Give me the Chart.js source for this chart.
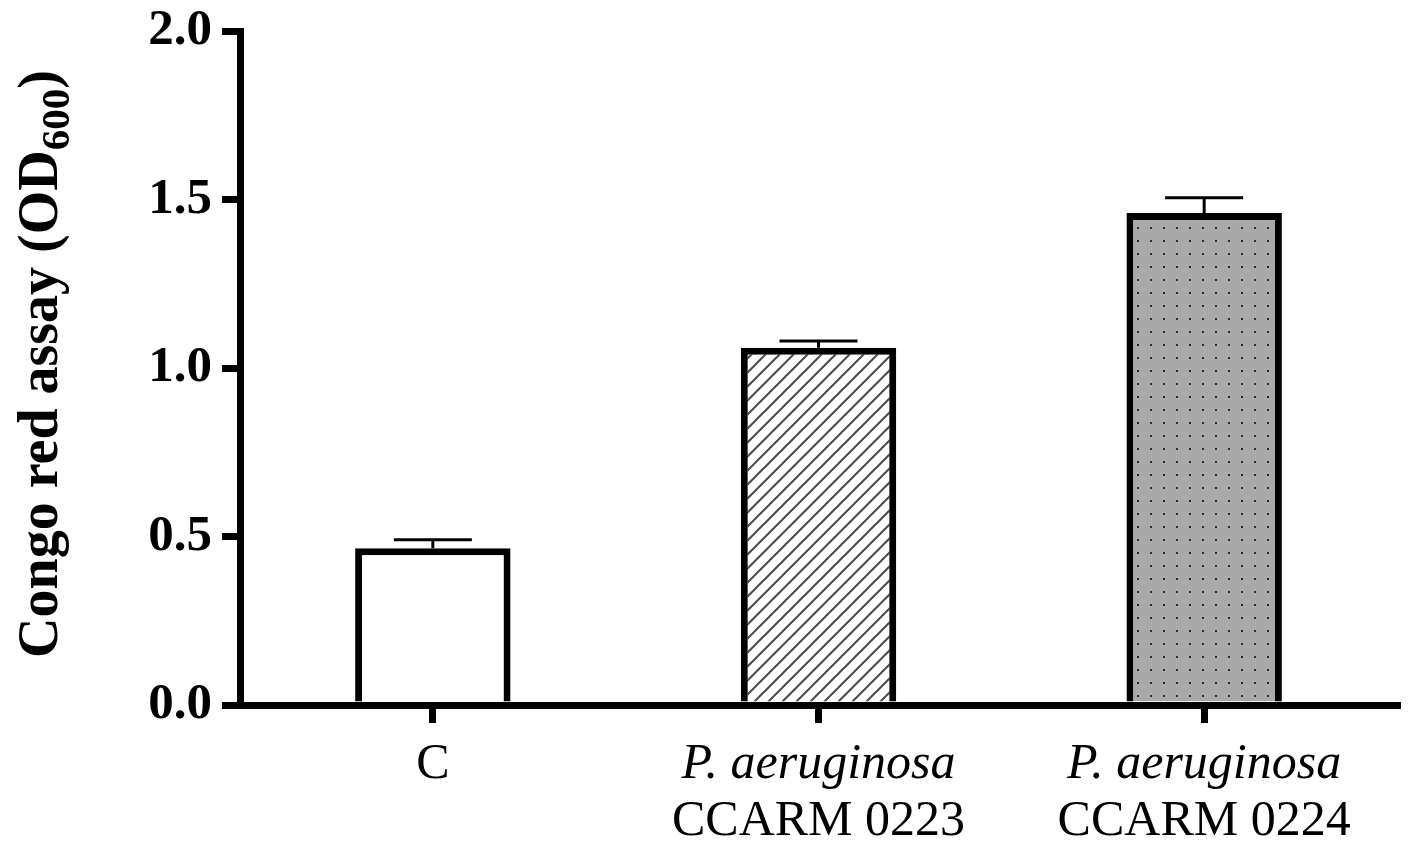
<!DOCTYPE html>
<html>
<head>
<meta charset="utf-8">
<script src="https://cdn.jsdelivr.net/npm/chart.js@4.4.1/dist/chart.umd.min.js"></script>
<style>
    html, body { margin: 0; padding: 0; background: #fff; }
    #wrap { width: 1413px; height: 851px; }
</style>
</head>
<body>
<div id="wrap"><canvas id="congoChart"></canvas></div>
<script>
// data
const categories = ['C', 'P. aeruginosa CCARM 0223', 'P. aeruginosa CCARM 0224'];
const labelLine1 = ['C', 'P. aeruginosa', 'P. aeruginosa'];
const labelLine2 = ['', 'CCARM 0223', 'CCARM 0224'];
const meanValues = [0.465, 1.06, 1.46];
const errorValues = [0.025, 0.02, 0.045];
const yTickLabels = ['0.0', '0.5', '1.0', '1.5', '2.0'];

const SERIF = "'Liberation Serif', 'Times New Roman', serif";

// fill patterns
function hatchPattern(ctx) {
    const s = 14;
    const c = document.createElement('canvas');
    c.width = s; c.height = s;
    const g = c.getContext('2d');
    g.fillStyle = '#fff';
    g.fillRect(0, 0, s, s);
    g.strokeStyle = '#4a4a4a';
    g.lineWidth = 2;
    g.beginPath();
    g.moveTo(-2, s + 2); g.lineTo(s + 2, -2);
    g.moveTo(-2, 2); g.lineTo(2, -2);
    g.moveTo(s - 2, s + 2); g.lineTo(s + 2, s - 2);
    g.stroke();
    return ctx.createPattern(c, 'repeat');
}

function dotPattern(ctx) {
    const s = 13;
    const c = document.createElement('canvas');
    c.width = s; c.height = s;
    const g = c.getContext('2d');
    g.fillStyle = '#a9a9a9';
    g.fillRect(0, 0, s, s);
    g.fillStyle = '#2e2e2e';
    g.fillRect(6, 6, 2, 2);
    return ctx.createPattern(c, 'repeat');
}

// error bars (mean + SD, upper only)
const errorBarPlugin = {
    id: 'errorBars',
    afterDatasetsDraw(chart) {
        const ctx = chart.ctx;
        const meta = chart.getDatasetMeta(0);
        const yScale = chart.scales.y;
        ctx.save();
        ctx.strokeStyle = '#000';
        ctx.lineWidth = 3;
        meta.data.forEach((bar, i) => {
            const yTop = yScale.getPixelForValue(meanValues[i] + errorValues[i]);
            ctx.beginPath();
            ctx.moveTo(bar.x, bar.y);
            ctx.lineTo(bar.x, yTop);
            ctx.moveTo(bar.x - 39, yTop);
            ctx.lineTo(bar.x + 39, yTop);
            ctx.stroke();
        });
        ctx.restore();
    }
};

// axis texts with italic species names and OD subscript
const axisTextPlugin = {
    id: 'axisText',
    afterDraw(chart) {
        const ctx = chart.ctx;
        const xScale = chart.scales.x;
        const area = chart.chartArea;
        ctx.save();
        ctx.fillStyle = '#000';
        ctx.textAlign = 'center';
        ctx.textBaseline = 'alphabetic';
        categories.forEach((cat, i) => {
            const x = xScale.getPixelForValue(i);
            const italic = labelLine2[i] !== '';
            ctx.font = (italic ? 'italic ' : '') + '50px ' + SERIF;
            ctx.fillText(labelLine1[i], x, area.bottom + 73);
            if (labelLine2[i]) {
                ctx.font = '50px ' + SERIF;
                ctx.fillText(labelLine2[i], x, area.bottom + 130);
            }
        });
        ctx.restore();

        // y title
        const main1 = 'Congo red assay (OD';
        const sub = '600';
        const main2 = ')';
        const mainFont = 'bold 56px ' + SERIF;
        const subFont = 'bold 41px ' + SERIF;
        ctx.save();
        ctx.fillStyle = '#000';
        ctx.textAlign = 'left';
        ctx.textBaseline = 'alphabetic';
        ctx.translate(57, (area.top + area.bottom) / 2 - 4);
        ctx.rotate(-Math.PI / 2);
        ctx.font = mainFont;
        const w1 = ctx.measureText(main1).width;
        const w3 = ctx.measureText(main2).width;
        ctx.font = subFont;
        const w2 = ctx.measureText(sub).width;
        let x0 = -(w1 + w2 + w3) / 2;
        ctx.font = mainFont;
        ctx.fillText(main1, x0, 0);
        ctx.font = subFont;
        ctx.fillText(sub, x0 + w1, 12);
        ctx.font = mainFont;
        ctx.fillText(main2, x0 + w1 + w2, 0);
        ctx.restore();
    }
};

document.addEventListener('DOMContentLoaded', function() {
    const canvas = document.getElementById('congoChart');
    const ctx = canvas.getContext('2d');

    new Chart(ctx, {
        type: 'bar',
        data: {
            labels: categories,
            datasets: [{
                data: meanValues,
                backgroundColor: ['#ffffff', hatchPattern(ctx), dotPattern(ctx)],
                borderColor: '#000',
                borderWidth: 7,
                borderSkipped: 'start',
                barPercentage: 0.403,
                categoryPercentage: 1
            }]
        },
        options: {
            responsive: true,
            maintainAspectRatio: false,
            animation: false,
            layout: {
                padding: { left: 0, right: 16, top: 31, bottom: 128 }
            },
            plugins: {
                legend: { display: false },
                tooltip: { enabled: false }
            },
            scales: {
                x: {
                    grid: {
                        display: true,
                        drawOnChartArea: false,
                        drawTicks: true,
                        tickLength: 18,
                        lineWidth: 7,
                        color: '#000',
                        offset: false
                    },
                    border: { display: true, width: 7, color: '#000' },
                    ticks: { display: false }
                },
                y: {
                    min: 0,
                    max: 2,
                    afterFit: function(scale) {
                        scale.width = 240;
                        scale.paddingTop = 0;
                        scale.paddingBottom = 0;
                    },
                    grid: {
                        drawOnChartArea: false,
                        drawTicks: true,
                        tickLength: 18,
                        lineWidth: 7,
                        color: '#000'
                    },
                    border: { display: true, width: 7, color: '#000' },
                    ticks: {
                        stepSize: 0.5,
                        padding: 10,
                        color: '#000',
                        font: { family: SERIF, size: 51, weight: 'bold' },
                        callback: function(value, index) {
                            return yTickLabels[index];
                        }
                    }
                }
            }
        },
        plugins: [errorBarPlugin, axisTextPlugin]
    });
});
</script>
</body>
</html>
